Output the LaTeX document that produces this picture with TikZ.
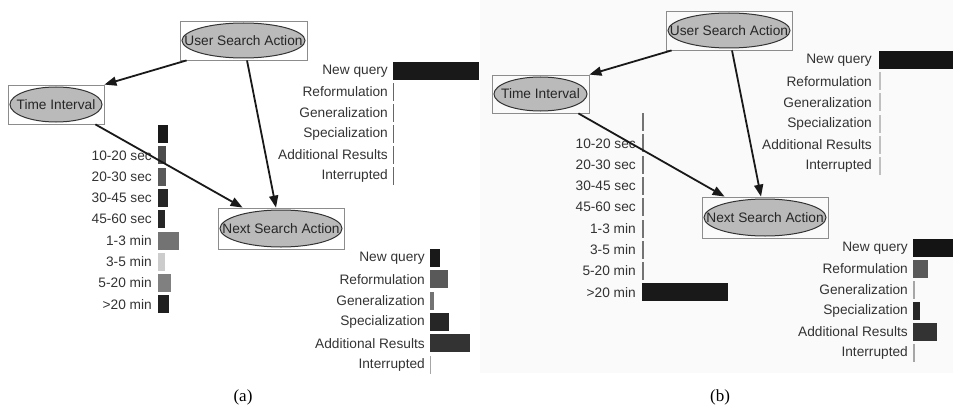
\documentclass[tikz,border=0pt]{standalone}
\usepackage{fontspec}
\newfontfamily\uifont{Liberation Sans}
\newfontfamily\capfont{Liberation Serif}
\usetikzlibrary{arrows.meta,calc}

\begin{document}
\begin{tikzpicture}[
    x=1pt, y=-1pt,
    >={Triangle[length=12pt, width=9pt]},
    lbl/.style={font=\uifont\fontsize{13.7}{15}\selectfont, text=black!80, inner sep=0pt},
    nbox/.style 2 args={draw=black!45, line width=0.8pt, inner sep=0pt,
        minimum width=#1, minimum height=#2,
        font=\uifont\fontsize{13.7}{15}\selectfont, text=black!85,
        path picture={\filldraw[draw=black!80, line width=1pt, fill=black!27]
            (path picture bounding box.center) ellipse [x radius=#1/2-2, y radius=#2/2-2];}},
    link/.style={->, line width=1.8pt, black!90},
    caplbl/.style={font=\capfont\fontsize{17}{20}\selectfont, inner sep=0pt},
]
\useasboundingbox (0,0) rectangle (953,412);
% faint backdrop of panel (b)
\fill[black!2] (480,0) rectangle (953,373);

% ========== Panel (a) ==========
\node[nbox={127}{39}] (usaA) at (243.5,40.5) {User Search Action};
\node[nbox={96}{39}] (tiA) at (56,104.5) {Time Interval};
\node[nbox={126}{41}] (nsaA) at (281,228.5) {Next Search Action};

% User Search Action bars
\foreach \lab/\w/\c [count=\i from 0] in {New query/86/black!90, Reformulation/1.2/black!60,
    Generalization/1.2/black!60, Specialization/1.2/black!60,
    Additional Results/1.2/black!60, Interrupted/1.2/black!60} {
    \node[lbl, anchor=east] (uqA\i) at (388, 71+21*\i) {\lab};
    \fill[\c] (393, 62+21*\i) rectangle ++(\w, 18);
}

% Time Interval bars
\fill[black!90] (158, 125) rectangle ++(10, 18);
\foreach \lab/\w/\c [count=\i from 1] in {10-20 sec/8/black!70, 20-30 sec/8/black!65,
    30-45 sec/10/black!85, 45-60 sec/7/black!85, 1-3 min/21/black!55,
    3-5 min/7/black!20, 5-20 min/13/black!50, >20 min/11/black!88} {
    \node[lbl, anchor=east] (tA\i) at (152, 134+21.3*\i) {\lab};
    \fill[\c] (158, 125+21.3*\i) rectangle ++(\w, 18);
}

% Next Search Action bars
\foreach \lab/\w/\c [count=\i from 0] in {New query/10/black!90, Reformulation/18/black!65,
    Generalization/4/black!55, Specialization/19/black!85,
    Additional Results/40/black!80, Interrupted/1.2/black!35} {
    \node[lbl, anchor=east] (nqA\i) at (425, 258+21.3*\i) {\lab};
    \fill[\c] (430, 249+21.3*\i) rectangle ++(\w, 18);
}

\draw[link] ($(usaA.south west)+(7,0)$) -- (tiA.north east);
\draw[link] ($(usaA.south)+(3.5,0)$) -- ($(nsaA.north)+(-5,0)$);
\draw[link] ($(tiA.south east)+(-9,0)$) -- ($(nsaA.north west)+(25,0)$);

\node[caplbl] (capA) at (243,397) {(a)};

% ========== Panel (b) ==========
\node[nbox={126}{39}] (usaB) at (729,30.5) {User Search Action};
\node[nbox={97}{38}] (tiB) at (540.5,94) {Time Interval};
\node[nbox={126}{41}] (nsaB) at (765,217.5) {Next Search Action};

% User Search Action bars
\foreach \lab/\w/\c [count=\i from 0] in {New query/74/black!92, Reformulation/2/black!25,
    Generalization/2/black!25, Specialization/2/black!25,
    Additional Results/2/black!25, Interrupted/2/black!25} {
    \node[lbl, anchor=east] (uqB\i) at (872, 60+21.2*\i) {\lab};
    \fill[\c] (879, 51+21.2*\i) rectangle ++(\w, 18);
}

% Time Interval bars
\fill[black!55] (642, 113) rectangle ++(1.5, 18);
\foreach \lab/\w/\c [count=\i from 1] in {10-20 sec/1.5/black!55, 20-30 sec/1.5/black!55,
    30-45 sec/1.5/black!55, 45-60 sec/1.5/black!55, 1-3 min/1.5/black!55,
    3-5 min/1.5/black!55, 5-20 min/1.5/black!55, >20 min/86/black!90} {
    \node[lbl, anchor=east] (tB\i) at (636, 122+21.3*\i) {\lab};
    \fill[\c] (642, 113+21.3*\i) rectangle ++(\w, 18);
}

% Next Search Action bars
\foreach \lab/\w/\c [count=\i from 0] in {New query/40/black!92, Reformulation/15/black!65,
    Generalization/1.5/black!35, Specialization/7/black!85,
    Additional Results/24/black!80, Interrupted/1.5/black!35} {
    \node[lbl, anchor=east] (nqB\i) at (908, 248+21*\i) {\lab};
    \fill[\c] (913, 239+21*\i) rectangle ++(\w, 18);
}

\draw[link] ($(usaB.south west)+(6,0)$) -- (tiB.north east);
\draw[link] ($(usaB.south)+(3,0)$) -- ($(nsaB.north)+(-4,0)$);
\draw[link] ($(tiB.south east)+(-11,0)$) -- ($(nsaB.north west)+(23,0)$);

\node[caplbl] (capB) at (720,397) {(b)};

\end{tikzpicture}
\end{document}
